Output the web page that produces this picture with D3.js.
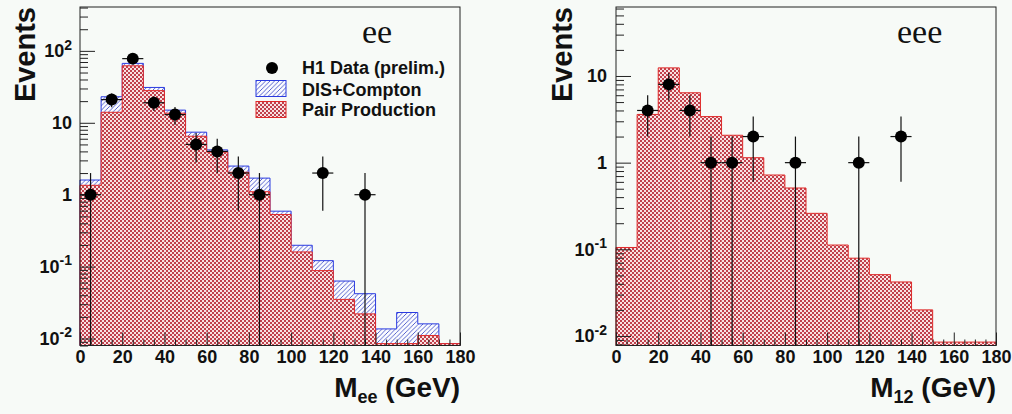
<!DOCTYPE html>
<html lang='en'>
<head>
<meta charset='UTF-8'>
<title>Multi-electron mass spectra</title>
<style>
  body { margin: 0; background: #f7faf7; }
  svg { display: block; font-family: 'Liberation Sans', Arial, sans-serif; font-weight: bold; }
</style>
</head>
<body>
<svg id='graph' width='1012' height='414'></svg>
<script src='https://d3js.org/d3.v7.min.js'></script>
<script>
// lower edge of each 10 GeV bin
const binLow = [0, 10, 20, 30, 40, 50, 60, 70, 80, 90, 100, 110, 120, 130, 140, 150, 160, 170]

// ee sample
const eePair = [1.35, 14, 62, 28, 13.6, 6.5, 3.9, 2.05, 1.1, 0.53, 0.16, 0.088, 0.035, 0.022, 0.0085, 0.0085, 0.011, 0.0085]
const eeDis = [0.25, 9, 5, 3, 1.4, 0.9, 0.3, 0.45, 0.6, 0.06, 0.038, 0.033, 0.028, 0.02, 0.0051, 0.0145, 0.005, 0]
const eeDataX = [5, 15, 25, 35, 45, 55, 65, 75, 85, 115, 135]
const eeDataN = [1, 21, 78, 19, 13, 5, 4, 2, 1, 2, 1]
const eeDataErr = [1, 4.6, 8.8, 4.4, 3.6, 2.2, 2, 1.4, 1, 1.4, 1]

// eee sample
const eeePair = [0.105, 3.6, 12.4, 6.4, 3.4, 2.07, 1.14, 0.72, 0.51, 0.26, 0.112, 0.079, 0.051, 0.042, 0.02, 0.0085, 0.0085, 0.0085]
const eeeDataX = [15, 25, 35, 45, 55, 65, 85, 115, 135]
const eeeDataN = [4, 8, 4, 1, 1, 2, 1, 1, 2]
const eeeDataErr = [2, 2.8, 2, 1, 1, 1.4, 1, 1, 1.4]

// axis ticks
const xTicks = [0, 20, 40, 60, 80, 100, 120, 140, 160, 180]
const eeYTicks = [0.01, 0.1, 1, 10, 100]
const eeYLabels = [['10', '-2'], ['10', '-1'], ['1', ''], ['10', ''], ['10', '2']]
const eeeYTicks = [0.01, 0.1, 1, 10]
const eeeYLabels = [['10', '-2'], ['10', '-1'], ['1', ''], ['10', '']]

const svg = d3.select('#graph')
const defs = svg.append('defs')

// red cross-hatch (checker look)
const xh = defs.append('pattern').attr('id', 'xhatch')
	.attr('patternUnits', 'userSpaceOnUse').attr('width', 4).attr('height', 4)
xh.append('rect').attr('width', 4).attr('height', 4).attr('fill', '#f8e2e2')
xh.append('rect').attr('width', 2).attr('height', 2).attr('fill', '#c0404c')
xh.append('rect').attr('x', 2).attr('y', 2).attr('width', 2).attr('height', 2).attr('fill', '#c0404c')

// blue diagonal hatch
const bh = defs.append('pattern').attr('id', 'bhatch')
	.attr('patternUnits', 'userSpaceOnUse').attr('width', 4.5).attr('height', 4.5)
bh.append('rect').attr('width', 4.5).attr('height', 4.5).attr('fill', '#fbfcff')
bh.append('path').attr('d', 'M0,4.5 L4.5,0 M-1,1 L1,-1 M3.5,5.5 L5.5,3.5')
	.attr('stroke', '#4452c8').attr('stroke-width', 0.9)

function drawPanel(p) {
	const g = svg.append('g')
	const x = d3.scaleLinear().domain([0, 180]).range([p.x0, p.x1])
	const y = d3.scaleLog().domain(p.yDomain).range([p.y1, p.y0]).clamp(true)
	const yMin = p.yDomain[0]

	const line = d3.line().x((d) => x(d[0])).y((d) => y(d[1]))
	const steps = (vals) => [[0, yMin]].concat(
		binLow.flatMap((lo, i) => [[lo, vals[i]], [lo + 10, vals[i]]]), [[180, yMin]])

	if (p.dis) {
		const total = p.pair.map((v, i) => v + p.dis[i])
		g.selectAll('.dis').data(binLow).enter().append('rect')
			.attr('x', (lo) => x(lo))
			.attr('width', (lo) => x(lo + 10) - x(lo))
			.attr('y', (lo, i) => y(total[i]))
			.attr('height', (lo, i) => y(p.pair[i]) - y(total[i]))
			.attr('fill', 'url(#bhatch)')
		g.append('path').attr('d', line(steps(total)))
			.attr('fill', 'none').attr('stroke', '#2a3ae0').attr('stroke-width', 1)
	}

	g.selectAll('.pair').data(binLow).enter().append('rect')
		.attr('x', (lo) => x(lo))
		.attr('width', (lo) => x(lo + 10) - x(lo))
		.attr('y', (lo, i) => y(p.pair[i]))
		.attr('height', (lo, i) => p.y1 - y(p.pair[i]))
		.attr('fill', 'url(#xhatch)')
	g.append('path').attr('d', line(steps(p.pair)))
		.attr('fill', 'none').attr('stroke', '#e02828').attr('stroke-width', 1)

	// y axis: major + minor ticks pointing inside
	const minor = []
	for (let e = -3; e <= 2; e++) for (let k = 2; k <= 9; k++) {
		const v = k * Math.pow(10, e)
		if (v >= p.yDomain[0] && v <= p.yDomain[1]) minor.push(v)
	}
	g.append('g').attr('transform', `translate(${p.x0},0)`)
		.call(d3.axisLeft(y).tickValues(minor).tickSizeInner(-8).tickSizeOuter(0).tickFormat(''))
	g.append('g').attr('transform', `translate(${p.x0},0)`)
		.call(d3.axisLeft(y).tickValues(p.yTicks).tickSizeInner(-15).tickSizeOuter(0).tickFormat(''))

	const lab = g.selectAll('.ylab').data(p.yTicks).enter().append('text')
		.attr('x', p.labX).attr('y', (d) => y(d)).attr('dy', '0.36em')
		.attr('text-anchor', 'end').attr('font-size', 18).attr('fill', '#111')
	lab.each(function (d, i) {
		const t = d3.select(this)
		t.append('tspan').text(p.yLabels[i][0])
		if (p.yLabels[i][1]) t.append('tspan').attr('font-size', 14).attr('dy', '-0.55em').text(p.yLabels[i][1])
	})

	// x axis
	const minorX = d3.range(0, 181, 5).filter((v) => v % 20)
	g.append('g').attr('transform', `translate(0,${p.y1})`)
		.call(d3.axisBottom(x).tickValues(minorX).tickSizeInner(-6).tickSizeOuter(0).tickFormat(''))
	g.append('g').attr('transform', `translate(0,${p.y1})`)
		.call(d3.axisBottom(x).tickValues(xTicks).tickSizeInner(-13).tickSizeOuter(0).tickPadding(5))
		.call((a) => a.selectAll('text').attr('font-size', 18).attr('font-family', null).attr('fill', '#111'))
	g.selectAll('.domain').remove()
	g.selectAll('.tick line').attr('stroke', '#222')

	// frame
	g.append('rect').attr('x', p.x0).attr('y', p.y0)
		.attr('width', p.x1 - p.x0).attr('height', p.y1 - p.y0)
		.attr('fill', 'none').attr('stroke', '#222').attr('stroke-width', 1)

	// data points with errors
	const pts = g.selectAll('.pt').data(p.dataX).enter().append('g')
	pts.append('line')
		.attr('x1', (d) => x(d)).attr('x2', (d) => x(d))
		.attr('y1', (d, i) => y(Math.max(p.dataN[i] - p.dataErr[i], yMin)))
		.attr('y2', (d, i) => y(p.dataN[i] + p.dataErr[i]))
		.attr('stroke', '#111').attr('stroke-width', 1.2)
	pts.append('line')
		.attr('x1', (d) => x(d - 5)).attr('x2', (d) => x(d + 5))
		.attr('y1', (d, i) => y(p.dataN[i])).attr('y2', (d, i) => y(p.dataN[i]))
		.attr('stroke', '#111').attr('stroke-width', 1.2)
	pts.append('circle')
		.attr('cx', (d) => x(d)).attr('cy', (d, i) => y(p.dataN[i]))
		.attr('r', 6).attr('fill', '#000')

	// titles
	svg.append('text').attr('transform', `translate(${p.titleX},7) rotate(-90)`)
		.attr('text-anchor', 'end').attr('font-size', 29).attr('fill', '#111').text('Events')
	const xt = svg.append('text').attr('x', p.x1).attr('y', 397)
		.attr('text-anchor', 'end').attr('font-size', 28).attr('fill', '#111')
	xt.append('tspan').text('M')
	xt.append('tspan').attr('font-size', 18).attr('dy', 6).text(p.sub)
	xt.append('tspan').attr('dy', -6).text(' (GeV)')

	svg.append('text').attr('x', p.tagX).attr('y', 43)
		.attr('font-family', "'Liberation Serif', 'Times New Roman', serif")
		.attr('font-weight', 'normal').attr('font-size', 34).attr('fill', '#111').text(p.tag)
}

drawPanel({
	x0: 80, x1: 460, y0: 7, y1: 345.5,
	yDomain: [Math.pow(10, -2.097), Math.pow(10, 2.61)],
	yTicks: eeYTicks, yLabels: eeYLabels, labX: 72,
	pair: eePair, dis: eeDis,
	dataX: eeDataX, dataN: eeDataN, dataErr: eeDataErr,
	titleX: 35, sub: 'ee', tag: 'ee', tagX: 362
})

drawPanel({
	x0: 616, x1: 996, y0: 7, y1: 345.5,
	yDomain: [Math.pow(10, -2.11), Math.pow(10, 1.796)],
	yTicks: eeeYTicks, yLabels: eeeYLabels, labX: 607,
	pair: eeePair, dis: null,
	dataX: eeeDataX, dataN: eeeDataN, dataErr: eeeDataErr,
	titleX: 572, sub: '12', tag: 'eee', tagX: 897
})

// legend (left panel)
const leg = svg.append('g').attr('font-size', 18).attr('fill', '#111')
leg.append('circle').attr('cx', 272).attr('cy', 68).attr('r', 6).attr('fill', '#000')
leg.append('rect').attr('x', 256).attr('y', 80.5).attr('width', 30).attr('height', 16)
	.attr('fill', 'url(#bhatch)').attr('stroke', '#2a3ae0').attr('stroke-width', 1)
leg.append('rect').attr('x', 256).attr('y', 101.5).attr('width', 30).attr('height', 16)
	.attr('fill', 'url(#xhatch)').attr('stroke', '#e02828').attr('stroke-width', 1)
leg.append('text').attr('x', 302).attr('y', 74).text('H1 Data (prelim.)')
leg.append('text').attr('x', 302).attr('y', 96).text('DIS+Compton')
leg.append('text').attr('x', 302).attr('y', 116).text('Pair Production')
</script>
</body>
</html>
